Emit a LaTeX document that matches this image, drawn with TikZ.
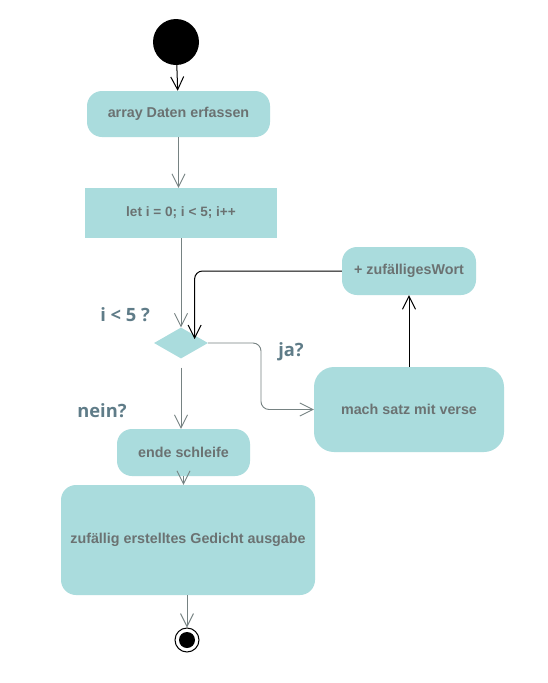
\documentclass[tikz,border=0pt]{standalone}
\usepackage{fontspec}
\setmainfont{Liberation Sans}
\newfontfamily\labelfont{Open Sans}
\usetikzlibrary{shapes.geometric,arrows.meta,calc}
\definecolor{boxfill}{HTML}{AADCDD}
\definecolor{boxtext}{HTML}{6B7272}
\definecolor{lbltext}{HTML}{5F7C88}
\definecolor{linegray}{HTML}{768282}
\tikzset{
  activity/.style={fill=boxfill, draw=none, rounded corners=15pt, inner sep=0pt,
    text=boxtext, font=\fontsize{14.3}{16}\selectfont\bfseries},
  guard/.style={text=lbltext, font=\labelfont\fontsize{18.3}{20}\selectfont\bfseries},
  flow/.style={draw=linegray, line width=0.9pt, -{Straight Barb[length=13pt,width=13pt]}},
  back/.style={draw=black, line width=1pt, -{Straight Barb[length=13pt,width=13pt]}}
}
\begin{document}
\begin{tikzpicture}[x=1pt, y=-1pt]
  \useasboundingbox[fill=white] (0, 0) rectangle (548, 683);
  % start and end
  \node[circle, fill=black, minimum size=46pt, inner sep=0pt] (start) at (176, 42) {};
  \node[circle, draw=black, line width=1pt, fill=white, minimum size=24pt, inner sep=0pt] (stop) at (187, 640) {};
  \node[circle, fill=black, minimum size=16pt, inner sep=0pt] (stopdot) at (stop) {};
  % activities
  \node[activity, minimum width=183pt, minimum height=46pt] (erfassen) at (178.5, 114) {array Daten erfassen};
  \node[activity, rounded corners=0pt, minimum width=192pt, minimum height=50pt, font=\fontsize{13.6}{15}\selectfont\bfseries] (schleife) at (181, 213) {let i = 0; i < 5; i++};
  \node[diamond, fill=boxfill, minimum width=54pt, minimum height=31pt, inner sep=0pt] (cond) at (181, 343) {};
  \node[activity, minimum width=134pt, minimum height=48pt] (wort) at (409, 271) {+ zufälligesWort};
  \node[activity, rounded corners=20pt, minimum width=190pt, minimum height=85pt] (satz) at (409, 409.5) {mach satz mit verse};
  \node[activity, minimum width=133pt, minimum height=47pt] (ende) at (183.5, 452.5) {ende schleife};
  \node[activity, minimum width=254pt, minimum height=110pt] (ausgabe) at (188, 540) {zufällig erstelltes Gedicht ausgabe};
  % guards
  \node[guard] (lblcond) at (125, 315) {i < 5 ?};
  \node[guard] (lblja) at (291, 352) {ja?};
  \node[guard] (lblnein) at (102, 411) {nein?};
  % flows
  \draw[back] (start) -- (erfassen);
  \draw[flow] (erfassen.south) -- (erfassen.south |- schleife.north);
  \draw[flow] (schleife.south -| cond) -- (cond.north);
  \draw[flow, rounded corners=8pt] (cond.east) -| ($(cond.east)!0.5!(satz.west)$) |- (satz.west);
  \draw[back] (satz.north) -- (wort.south);
  \draw[back, rounded corners=8pt] (wort.west) -| ([yshift=-4pt]cond.north east);
  \draw[flow] ([yshift=-9pt]cond.south) -- (cond.south |- ende.north);
  \draw[flow] (ende.south) -- (ende.south |- ausgabe.north);
  \draw[flow] (ausgabe.south -| stop) -- (stop.north);
\end{tikzpicture}
\end{document}
